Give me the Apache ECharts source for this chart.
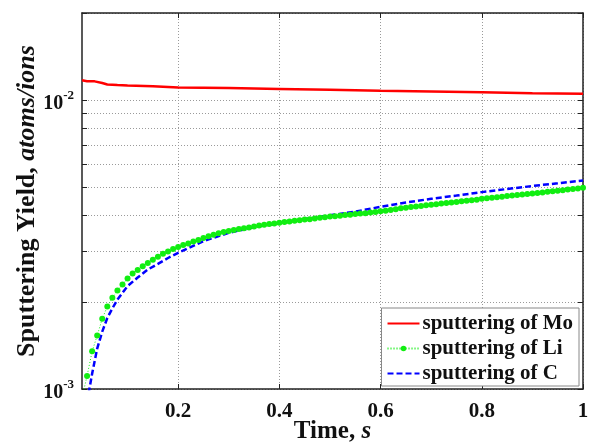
<!DOCTYPE html>
<html>
<head>
<meta charset="utf-8">
<script src="https://cdn.jsdelivr.net/npm/echarts@6/dist/echarts.min.js"></script>
<style>
	html, body { margin: 0; padding: 0; background: #fff; }
	#chart { width: 596px; height: 445px; }
</style>
</head>
<body>
<div id="chart"></div>
<script>
// sputtering of Mo (red solid)
var moTime  = [0.01, 0.02, 0.035, 0.05, 0.06, 0.08, 0.10, 0.15, 0.20, 0.30, 0.40, 0.50, 0.60, 0.70, 0.80, 0.90, 1.00];
var moYield = [0.01170, 0.01162, 0.01160, 0.01145, 0.01132, 0.01127, 0.01123, 0.01115, 0.01105, 0.01100, 0.01092, 0.01085, 0.01077, 0.01070, 0.01063, 0.01056, 0.01050];

// sputtering of Li (green dotted with dots)
var liTime = [
	0.01, 0.02, 0.03, 0.04, 0.05, 0.06, 0.07, 0.08, 0.09, 0.10,
	0.11, 0.12, 0.13, 0.14, 0.15, 0.16, 0.17, 0.18, 0.19, 0.20,
	0.21, 0.22, 0.23, 0.24, 0.25, 0.26, 0.27, 0.28, 0.29, 0.30,
	0.31, 0.32, 0.33, 0.34, 0.35, 0.36, 0.37, 0.38, 0.39, 0.40,
	0.41, 0.42, 0.43, 0.44, 0.45, 0.46, 0.47, 0.48, 0.49, 0.50,
	0.51, 0.52, 0.53, 0.54, 0.55, 0.56, 0.57, 0.58, 0.59, 0.60,
	0.61, 0.62, 0.63, 0.64, 0.65, 0.66, 0.67, 0.68, 0.69, 0.70,
	0.71, 0.72, 0.73, 0.74, 0.75, 0.76, 0.77, 0.78, 0.79, 0.80,
	0.81, 0.82, 0.83, 0.84, 0.85, 0.86, 0.87, 0.88, 0.89, 0.90,
	0.91, 0.92, 0.93, 0.94, 0.95, 0.96, 0.97, 0.98, 0.99, 1.00
];
var liYield = [
	0.00093, 0.00111, 0.00135, 0.00153, 0.00175, 0.00193, 0.00207, 0.00219, 0.00230, 0.00241,
	0.00251, 0.00258, 0.00266, 0.00273, 0.00280, 0.00287, 0.00294, 0.00299, 0.00305, 0.00310,
	0.00315, 0.00319, 0.00324, 0.00328, 0.00333, 0.00338, 0.00342, 0.00346, 0.00349, 0.00352,
	0.00355, 0.00358, 0.00360, 0.00362, 0.00365, 0.00368, 0.00370, 0.00372, 0.00374, 0.00376,
	0.00378, 0.00380, 0.00382, 0.00384, 0.00386, 0.00387, 0.00389, 0.00391, 0.00393, 0.00395,
	0.00396, 0.00398, 0.00400, 0.00401, 0.00403, 0.00405, 0.00406, 0.00408, 0.00410, 0.00412,
	0.00414, 0.00416, 0.00419, 0.00422, 0.00424, 0.00426, 0.00428, 0.00430, 0.00432, 0.00434,
	0.00436, 0.00438, 0.00440, 0.00442, 0.00444, 0.00446, 0.00448, 0.00450, 0.00452, 0.00455,
	0.00457, 0.00459, 0.00461, 0.00463, 0.00465, 0.00467, 0.00469, 0.00471, 0.00473, 0.00475,
	0.00477, 0.00479, 0.00481, 0.00483, 0.00485, 0.00487, 0.00490, 0.00492, 0.00494, 0.00497
];

// sputtering of C (blue dashed)
var cTime  = [0.02, 0.03, 0.04, 0.05, 0.06, 0.07, 0.08, 0.10, 0.12, 0.14, 0.16, 0.18, 0.20, 0.25, 0.30, 0.35, 0.40, 0.45, 0.50, 0.55, 0.60, 0.65, 0.70, 0.75, 0.80, 0.85, 0.90, 0.95, 1.00];
var cYield = [0.00090, 0.00113, 0.00138, 0.00158, 0.00176, 0.00190, 0.00204, 0.00227, 0.00243, 0.00259, 0.00271, 0.00284, 0.00296, 0.00325, 0.00347, 0.00363, 0.00375, 0.00387, 0.00399, 0.00411, 0.00427, 0.00442, 0.00455, 0.00467, 0.00480, 0.00492, 0.00504, 0.00515, 0.00527];

// axis ticks
var xTicks = [0.2, 0.4, 0.6, 0.8, 1];
var yTicks = [0.001, 0.002, 0.003, 0.004, 0.005, 0.006, 0.007, 0.008, 0.009, 0.01, 0.02];
var yLabels = [0.001, 0.01];

function pairs(xs, ys) {
	return xs.map(function (x, i) { return [x, ys[i]]; });
}

var font = 'Liberation Serif, Times New Roman, serif';
var gridLine = { show: true, lineStyle: { color: '#9a9a9a', width: 1, type: [1, 2] } };
function nameRich(size) {
	return {
		n: { fontFamily: font, fontWeight: 'bold', fontSize: size, color: '#111' },
		i: { fontFamily: font, fontWeight: 'bold', fontStyle: 'italic', fontSize: size, color: '#111' }
	};
}

var myChart = echarts.init(document.getElementById('chart'));

var option = {
	animation: false,
	backgroundColor: '#fff',
	grid: { left: 82, right: 13, top: 13, bottom: 56, outerBoundsMode: 'none', containLabel: false },
	legend: {
		orient: 'vertical',
		right: 17,
		bottom: 59,
		itemWidth: 32,
		itemHeight: 7,
		itemGap: 4,
		padding: [5, 6, 2, 5],
		backgroundColor: '#fff',
		borderColor: '#888',
		borderWidth: 1,
		textStyle: { fontFamily: font, fontWeight: 'bold', fontSize: 21, color: '#111', padding: [0, 0, 0, -2] },
		data: [
			{ name: 'sputtering of Mo', itemStyle: { opacity: 0 } },
			{ name: 'sputtering of Li' },
			{ name: 'sputtering of C', itemStyle: { opacity: 0 } }
		]
	},
	xAxis: [{
		type: 'value',
		min: 0.01,
		max: 1,
		name: '{n|Time, }{i|s}',
		nameLocation: 'middle',
		nameGap: 30,
		nameMoveOverlap: false,
		nameTextStyle: { rich: nameRich(25) },
		axisLine: { lineStyle: { color: '#222', width: 1.5 } },
		axisTick: { inside: true, length: 5, customValues: xTicks, lineStyle: { color: '#222' } },
		axisLabel: {
			customValues: xTicks,
			margin: 12,
			fontFamily: font, fontWeight: 'bold', fontSize: 21, color: '#111',
			formatter: function (v) { return String(v); }
		},
		splitLine: gridLine
	}, {
		type: 'value',
		position: 'top',
		min: 0.01,
		max: 1,
		axisLine: { show: true, onZero: false, lineStyle: { color: '#222', width: 1.5 } },
		axisTick: { inside: true, length: 5, customValues: xTicks, lineStyle: { color: '#222' } },
		axisLabel: { show: false },
		splitLine: { show: false }
	}],
	yAxis: [{
		type: 'log',
		logBase: 10,
		min: 0.001,
		max: 0.02,
		name: '{n|Sputtering Yield, }{i|atoms/ions}',
		nameLocation: 'middle',
		nameGap: 42,
		nameMoveOverlap: false,
		nameTextStyle: { rich: nameRich(26) },
		axisLine: { lineStyle: { color: '#222', width: 1.5 } },
		axisTick: { inside: true, length: 5, customValues: yTicks, lineStyle: { color: '#222' } },
		axisLabel: {
			customValues: yLabels,
			margin: 8,
			formatter: function (v) {
				var e = Math.round(Math.log(v) / Math.LN10);
				return '{b|10}{s|' + e + '}';
			},
			rich: {
				b: { fontFamily: font, fontWeight: 'bold', fontSize: 20, color: '#111', padding: [8, 0, 0, 0] },
				s: { fontFamily: font, fontWeight: 'bold', fontSize: 13, color: '#111', padding: [0, 0, 9, 0] }
			}
		},
		splitLine: gridLine
	}, {
		type: 'log',
		logBase: 10,
		min: 0.001,
		max: 0.02,
		position: 'right',
		axisLine: { show: true, lineStyle: { color: '#222', width: 1.5 } },
		axisTick: { show: true, inside: true, length: 5, customValues: yTicks, lineStyle: { color: '#222' } },
		axisLabel: { show: false },
		splitLine: { show: false }
	}],
	series: [{
		name: 'sputtering of Mo',
		type: 'line',
		data: pairs(moTime, moYield),
		symbol: 'none',
		clip: true,
		itemStyle: { color: '#ff0000' },
		lineStyle: { color: '#ff0000', width: 2.5 }
	}, {
		name: 'sputtering of Li',
		type: 'line',
		data: pairs(liTime, liYield),
		symbol: 'circle',
		symbolSize: 6,
		showSymbol: true,
		clip: true,
		itemStyle: { color: '#11ee11' },
		lineStyle: { color: '#11ee11', width: 1, type: [1, 2] }
	}, {
		name: 'sputtering of C',
		type: 'line',
		data: pairs(cTime, cYield),
		symbol: 'none',
		clip: true,
		itemStyle: { color: '#0000ff' },
		lineStyle: { color: '#0000ff', width: 2.5, type: [6, 3] }
	}]
};

myChart.setOption(option);
</script>
</body>
</html>
